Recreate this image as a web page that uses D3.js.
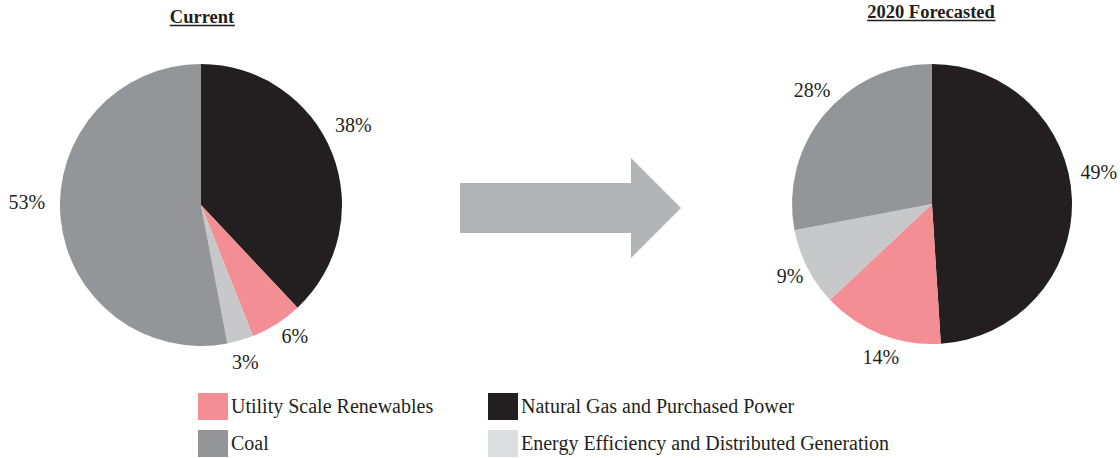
<!DOCTYPE html>
<html>
<head>
<meta charset="utf-8">
<script src="https://cdn.jsdelivr.net/npm/d3@7"></script>
<style>
  html, body { margin: 0; padding: 0; background: #ffffff; }
  svg { display: block; }
  text { font-family: "Liberation Serif", "Times New Roman", serif; fill: #231f20; }
</style>
</head>
<body>
<svg id="chart" width="1120" height="458"></svg>
<script>
// Generation mix categories, in slice order (clockwise from 12 o'clock)
const categories = [
  "Natural Gas and Purchased Power",
  "Utility Scale Renewables",
  "Energy Efficiency and Distributed Generation",
  "Coal"
];
const currentShare = [38, 6, 3, 53];
const forecastShare = [49, 14, 9, 28];
const chartTitles = ["Current", "2020 Forecasted"];

// Legend order (two rows, two columns)
const legendOrder = [
  "Utility Scale Renewables",
  "Natural Gas and Purchased Power",
  "Coal",
  "Energy Efficiency and Distributed Generation"
];

const sliceColors = ["#231f20", "#f48e95", "#c7c8ca", "#939598"];
const legendColors = ["#231f20", "#f48e95", "#dcddde", "#939598"];

// Layout
const W = 1120, H = 458;
const pies = [
  { values: currentShare, cx: 201, cy: 205, r: 141, title: chartTitles[0], titleX: 202, titleY: 23,
    nudge: [[-2, -19], [5, -9], [-2, -2], [-9, -19]] },
  { values: forecastShare, cx: 932, cy: 204, r: 140, title: chartTitles[1], titleX: 931, titleY: 18,
    nudge: [[1, -27], [10, -1], [6, -3], [8, -8]] }
];
const labelRadius = 166;

const svg = d3.select("#chart");
const color = d3.scaleOrdinal().domain(categories).range(sliceColors);
const legendColor = d3.scaleOrdinal().domain(categories).range(legendColors);

const pie = d3.pie().sort(null).value(d => d.value).startAngle(0).endAngle(2 * Math.PI);

pies.forEach(p => {
  const data = categories.map((c, i) => ({ category: c, value: p.values[i] }));
  const arcs = pie(data);
  const arc = d3.arc().innerRadius(0).outerRadius(p.r);
  const labelArc = d3.arc().innerRadius(labelRadius).outerRadius(labelRadius);

  const g = svg.append("g").attr("transform", `translate(${p.cx},${p.cy})`);
  g.selectAll("path.slice")
    .data(arcs)
    .join("path")
    .attr("class", "slice")
    .attr("d", arc)
    .attr("fill", d => color(d.data.category));

  g.selectAll("text.pct")
    .data(arcs)
    .join("text")
    .attr("class", "pct")
    .attr("text-anchor", "middle")
    .attr("font-size", 20)
    .attr("x", (d, i) => labelArc.centroid(d)[0] + p.nudge[i][0])
    .attr("y", (d, i) => labelArc.centroid(d)[1] + p.nudge[i][1] + 7)
    .text(d => d.data.value + "%");

  // Underlined bold title
  const t = svg.append("text")
    .attr("x", p.titleX)
    .attr("y", p.titleY)
    .attr("text-anchor", "middle")
    .attr("font-size", 18.5)
    .attr("font-weight", "bold")
    .text(p.title);
  const bb = t.node().getBBox();
  svg.append("line")
    .attr("x1", bb.x).attr("x2", bb.x + bb.width)
    .attr("y1", p.titleY + 2.5).attr("y2", p.titleY + 2.5)
    .attr("stroke", "#231f20").attr("stroke-width", 1.6);
});

// Transition arrow between the two pies
const arrow = { x0: 460, x1: 631, tip: 681, yMid: 208, body: 25, head: 50 };
const arrowPath = d3.path();
arrowPath.moveTo(arrow.x0, arrow.yMid - arrow.body);
arrowPath.lineTo(arrow.x1, arrow.yMid - arrow.body);
arrowPath.lineTo(arrow.x1, arrow.yMid - arrow.head);
arrowPath.lineTo(arrow.tip, arrow.yMid);
arrowPath.lineTo(arrow.x1, arrow.yMid + arrow.head);
arrowPath.lineTo(arrow.x1, arrow.yMid + arrow.body);
arrowPath.lineTo(arrow.x0, arrow.yMid + arrow.body);
arrowPath.closePath();
svg.append("path").attr("d", arrowPath.toString()).attr("fill", "#b1b3b6");

// Legend
const legendCols = [198, 488];
const legendRows = [393, 430];
const swatch = { w: 30, h: 27 };
const legend = svg.append("g");
legendOrder.forEach((name, i) => {
  const x = legendCols[i % 2];
  const y = legendRows[Math.floor(i / 2)];
  legend.append("rect")
    .attr("x", x).attr("y", y)
    .attr("width", swatch.w).attr("height", swatch.h)
    .attr("fill", legendColor(name));
  legend.append("text")
    .attr("x", x + swatch.w + 3)
    .attr("y", y + 20)
    .attr("font-size", 20)
    .text(name);
});
</script>
</body>
</html>
